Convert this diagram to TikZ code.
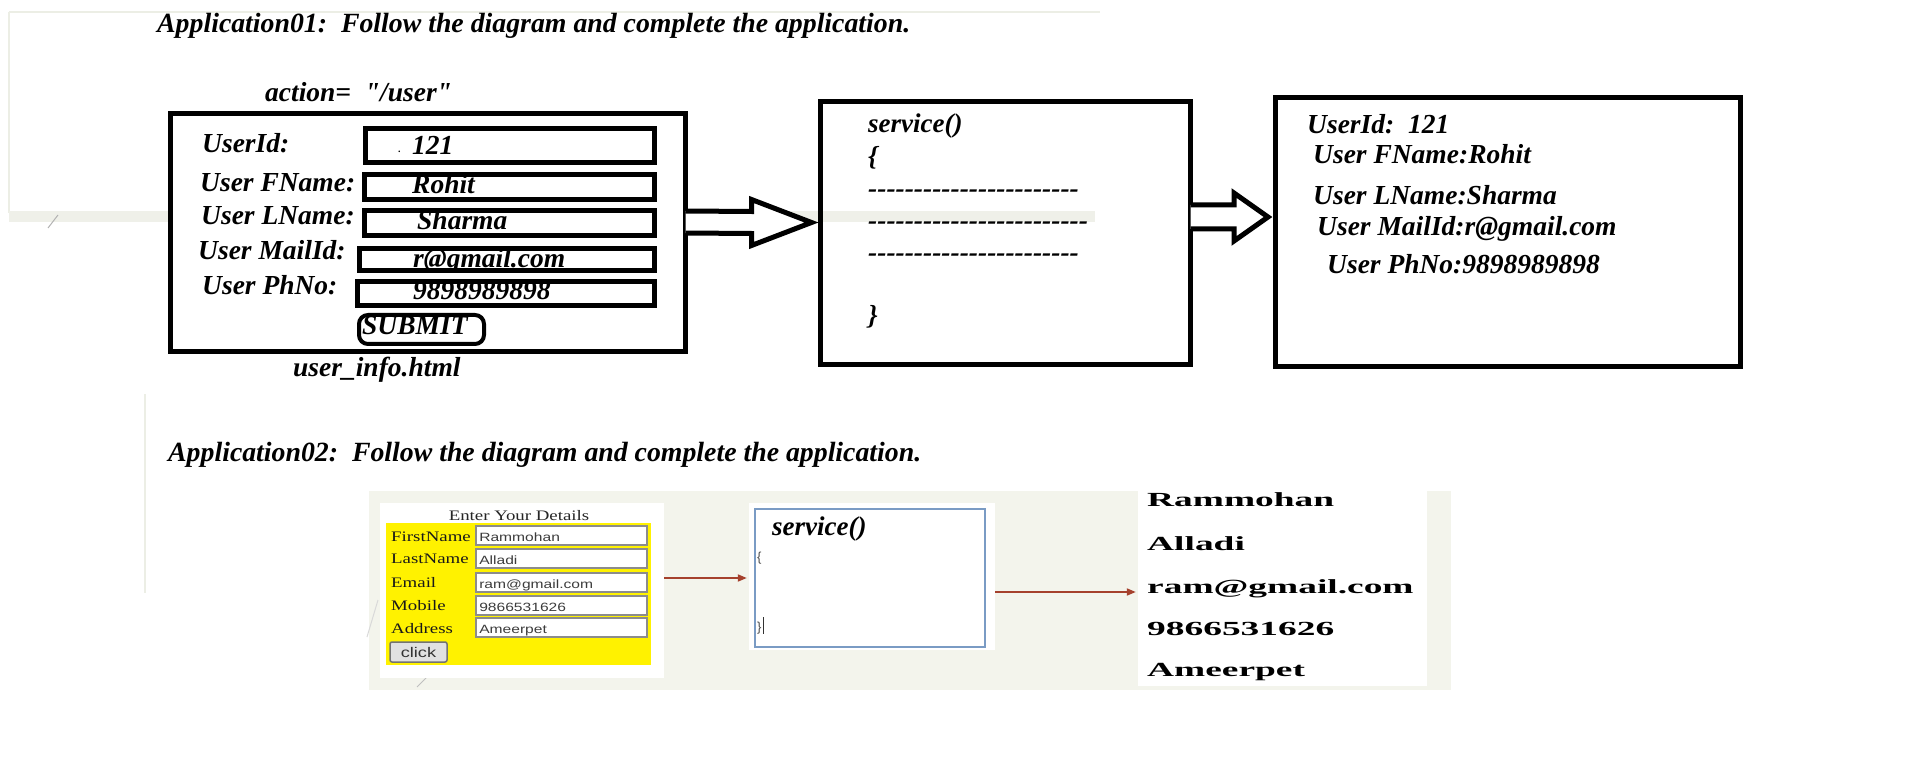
\documentclass[tikz,border=0pt]{standalone}
\usepackage{fontspec}
\setmainfont{Liberation Serif}[Ligatures=TeXOff]
\newfontfamily\shotserif{Liberation Serif}[FakeStretch=1.3]
\newfontfamily\shotsans{Liberation Sans}[FakeStretch=1.3]
\newfontfamily\outserif{Liberation Serif}[FakeStretch=1.87]
\newfontfamily\plainsans{Liberation Sans}
\usetikzlibrary{arrows.meta,calc}
\ExplSyntaxOn
\cs_new:Npn \myrep #1#2 { \prg_replicate:nn {#1} {#2} }
\ExplSyntaxOff
\definecolor{faint}{RGB}{236,238,229}
\definecolor{faintband}{RGB}{239,240,233}
\definecolor{bgtwo}{RGB}{243,244,236}
\definecolor{redarr}{RGB}{165,65,45}
\definecolor{steel}{RGB}{122,155,196}
\definecolor{ingray}{RGB}{140,140,140}
\definecolor{intext}{RGB}{60,60,60}
\definecolor{btnfill}{RGB}{225,225,225}
\tikzset{
  bi/.style={font=\fontsize{27.5}{30}\selectfont\bfseries\itshape},
  ttl/.style={font=\fontsize{27.8}{30}\selectfont\bfseries\itshape},
  txt/.style={inner sep=0pt, anchor=base west},
  thickbox/.style={draw, line width=5pt, fill=white, inner sep=0pt},
  fieldbox/.style={draw, line width=5pt, inner sep=0pt},
  hollow/.style={draw, line width=5pt, fill=white, line join=miter, miter limit=20},
  whitearea/.style={fill=white, inner sep=0pt},
  inbox/.style={draw=ingray, line width=1.8pt, fill=white, inner sep=0pt, minimum width=171pt, minimum height=19pt},
  lbl/.style={txt, font=\shotserif\fontsize{14.5}{16}\selectfont, text=black!90},
  intxt/.style={txt, font=\shotsans\fontsize{12}{14}\selectfont, text=intext},
  outtxt/.style={txt, font=\outserif\bfseries\fontsize{20}{22}\selectfont},
  redarrow/.style={draw=redarr, line width=1.8pt, -{Triangle[length=9pt,width=7pt]}, shorten >=2pt},
  smallcode/.style={txt, font=\plainsans\fontsize{13}{14}\selectfont, text=black!70}
}
\begin{document}
\begin{tikzpicture}[x=1pt,y=-1pt]
\useasboundingbox[fill=white] (0,0) rectangle (1907,767);
% faint background remnants
\draw[line width=1.5pt, faint] (9,12) -- (1100,12);
\draw[line width=1.5pt, faint] (9,12) -- (9,213);
\fill[faintband] (9,211) rectangle (1095,222);
\draw[line width=1pt, black!30] (48,228) -- (58,215);
\draw[line width=2pt, faint] (145,394) -- (145,593);

% ---------- Application01 ----------
\node[txt, ttl] (t1) at (157,33) {Application01:\ \ Follow the diagram and complete the application.};
\node[txt, bi] (act) at (265,102) {action=\ \ "/user"};

\node[thickbox, minimum width=515pt, minimum height=238pt] (form) at (427.5,233) {};
\node[fieldbox, minimum width=289pt, minimum height=34pt] (in1) at (510,145.5) {};
\node[fieldbox, minimum width=290pt, minimum height=25pt] (in2) at (509.5,187) {};
\node[fieldbox, minimum width=290pt, minimum height=25pt] (in3) at (509.5,223) {};
\node[fieldbox, minimum width=295pt, minimum height=22pt] (in4) at (507,259.5) {};
\node[fieldbox, minimum width=297pt, minimum height=24pt] (in5) at (506,293.5) {};
\node[draw, line width=4pt, rounded corners=9pt, inner sep=0pt, minimum width=125pt, minimum height=29pt] (sub) at (421.5,329.5) {};

\node[txt, bi] (l1) at (202,153) {UserId:};
\node[txt, bi] (l2) at (200,192) {User FName:};
\node[txt, bi] (l3) at (201,225) {User LName:};
\node[txt, bi] (l4) at (198,260) {User MailId:};
\node[txt, bi] (l5) at (202,295) {User PhNo:};
\node[txt, font=\fontsize{10}{10}\selectfont\bfseries] (dot) at (398,153) {.};
\node[txt, bi] (v1) at (412,155) {121};
\node[txt, bi] (v2) at (412,194) {Rohit};
\node[txt, bi] (v3) at (417,230) {Sharma};
\node[txt, bi] (v4) at (413,268) {r@gmail.com};
\node[txt, bi] (v5) at (413,300) {9898989898};
\node[txt, bi] (subt) at (362,335) {SUBMIT};
\node[txt, bi] (fname) at (293,377) {user\_info.html};

% service box
\node[draw, line width=5pt, inner sep=0pt, minimum width=370pt, minimum height=263pt] (svc) at (1005,233) {};
\node[txt, font=\fontsize{27}{30}\selectfont\bfseries\itshape] (s1) at (868,133) {service()};
\node[txt, bi] (s2) at (868,166) {\{};
\node[txt, bi] (s3) at (868,198) {\myrep{23}{-{}}};
\node[txt, bi] (s4) at (868,230) {\myrep{24}{-{}}};
\node[txt, bi] (s5) at (868,262) {\myrep{23}{-{}}};
\node[txt, bi] (s6) at (868,325) {\}};

% result box
\node[thickbox, minimum width=465pt, minimum height=269.5pt] (res) at (1508,232.25) {};
\node[txt, bi] (r1) at (1307,134) {UserId:\ \ 121};
\node[txt, bi] (r2) at (1313,164) {User FName:Rohit};
\node[txt, bi] (r3) at (1313,205) {User LName:Sharma};
\node[txt, bi] (r4) at (1317,236) {User MailId:r@gmail.com};
\node[txt, bi] (r5) at (1327,274) {User PhNo:9898989898};

% hollow arrows
\coordinate (a1s) at (form.east |- 0,222);
\coordinate (a1t) at (svc.west |- 0,222.5);
\draw[hollow] ($(a1s)+(-2,-11)$) -- ($(a1t)+(-66,-11)$) -- ($(a1t)+(-66,-23)$) -- ($(a1t)+(-6,0)$)
   -- ($(a1t)+(-66,23)$) -- ($(a1t)+(-66,11)$) -- ($(a1s)+(-2,11)$);
\coordinate (a2s) at (svc.east |- 0,217);
\coordinate (a2t) at (res.west |- 0,217);
\draw[hollow] ($(a2s)+(-2,-12)$) -- ($(a2t)+(-39,-12)$) -- ($(a2t)+(-39,-24)$) -- ($(a2t)+(-5,0)$)
   -- ($(a2t)+(-39,24)$) -- ($(a2t)+(-39,12)$) -- ($(a2s)+(-2,12)$);

% ---------- Application02 ----------
\node[txt, ttl] (t2) at (168,461) {Application02:\ \ Follow the diagram and complete the application.};
\fill[bgtwo] (369,491) rectangle (1451,690);
\draw[line width=1pt, black!25] (417,687) -- (427,677);
\draw[line width=1pt, black!15] (367,637) -- (378,600);

\node[whitearea, minimum width=284pt, minimum height=175pt] (form2w) at (522,590.5) {};
\node[fill=yellow, inner sep=0pt, minimum width=265pt, minimum height=142pt] (yel) at (518.5,594) {};
\node[inner sep=0pt, anchor=base, font=\shotserif\fontsize{14.5}{16}\selectfont, text=black!85] (etd) at (519,520) {Enter Your Details};

\node[lbl] (k1) at (391,541) {FirstName};
\node[lbl] (k2) at (391,563) {LastName};
\node[lbl] (k3) at (391,587) {Email};
\node[lbl] (k4) at (391,610) {Mobile};
\node[lbl] (k5) at (391,633) {Address};

\node[inbox] (f1) at (561.5,535.5) {};
\node[inbox] (f2) at (561.5,558.5) {};
\node[inbox] (f3) at (561.5,582.5) {};
\node[inbox] (f4) at (561.5,605.5) {};
\node[inbox] (f5) at (561.5,627.5) {};
\node[intxt] (g1) at ($(f1.south west)+(4,-4.5)$) {Rammohan};
\node[intxt] (g2) at ($(f2.south west)+(4,-4.5)$) {Alladi};
\node[intxt] (g3) at ($(f3.south west)+(4,-4.5)$) {ram@gmail.com};
\node[intxt] (g4) at ($(f4.south west)+(4,-4.5)$) {9866531626};
\node[intxt] (g5) at ($(f5.south west)+(4,-4.5)$) {Ameerpet};

\node[draw=black!55, fill=btnfill, line width=1.5pt, rounded corners=2pt, inner sep=0pt,
      minimum width=57pt, minimum height=20pt, font=\shotsans\fontsize{14}{15}\selectfont, text=black!80] (btn) at (418.5,652) {click};

\node[whitearea, minimum width=246pt, minimum height=147pt] (svc2w) at (872,576.5) {};
\node[draw=steel, line width=2pt, fill=white, inner sep=0pt, minimum width=230pt, minimum height=138pt] (svc2) at (870,578) {};
\node[txt, font=\fontsize{27}{30}\selectfont\bfseries\itshape] (q1) at (772,535) {service()};
\node[smallcode] (q2) at (757,561) {\{};
\node[smallcode] (q3) at (757,631) {\}};
\draw[line width=1.2pt, black!80] (763.5,617) -- (763.5,634);

\node[whitearea, minimum width=289pt, minimum height=198pt] (outw) at (1282.5,587) {};
\node[outtxt] (o1) at (1147,506) {Rammohan};
\node[outtxt] (o2) at (1147,550) {Alladi};
\node[outtxt] (o3) at (1147,593) {ram@gmail.com};
\node[outtxt] (o4) at (1147,635) {9866531626};
\node[outtxt] (o5) at (1147,676) {Ameerpet};

\draw[redarrow] (form2w.east |- 0,578) -- (svc2w.west |- 0,578);
\draw[redarrow] (svc2w.east |- 0,592) -- (outw.west |- 0,592);
\end{tikzpicture}
\end{document}
